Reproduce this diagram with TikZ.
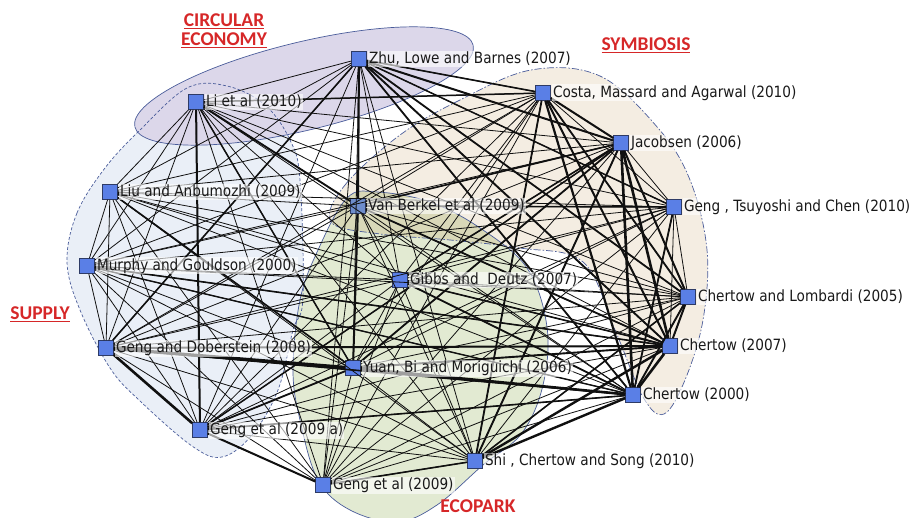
\documentclass[tikz,border=0pt]{standalone}
\usepackage{fontspec}
\setmainfont{DejaVu Sans}[FakeStretch=0.88]
\newfontfamily\headfont{Carlito}
\definecolor{nodeblue}{HTML}{5A7FE6}
\definecolor{nodeedge}{HTML}{2E3B66}
\definecolor{vbblue}{HTML}{6E8DCC}
\definecolor{purplefill}{HTML}{DCD7EA}
\definecolor{bluefill}{HTML}{EAEFF7}
\definecolor{beigefill}{HTML}{F4EDE2}
\definecolor{greenfill}{HTML}{E2EAD2}
\definecolor{olivefill}{HTML}{D9D8B8}
\definecolor{blobline}{HTML}{4A5C9A}
\definecolor{headred}{HTML}{D62728}
\definecolor{edgecol}{HTML}{101010}
\tikzset{
  sq/.style={draw=nodeedge, fill=nodeblue, line width=0.6pt, minimum size=15pt, inner sep=0pt, rectangle},
  edge/.style={draw=edgecol, line width=0.8pt},
  lab/.style={anchor=west, font=\fontsize{15.5}{17}\selectfont, text=black!90, fill=white, fill opacity=0.6, text opacity=1, inner sep=1pt},
  head/.style={font=\headfont\bfseries\fontsize{19.5}{22}\selectfont, text=headred, align=center},
  blobborder/.style={draw=blobline, line width=0.7pt}
}
\begin{document}
\begin{tikzpicture}[x=1pt,y=-1pt]
\useasboundingbox (0,0) rectangle (917,518);
% ---- cluster blobs ----
\def\supplypath{plot[smooth cycle, tension=0.6] coordinates {(67,262) (77,213) (105,168) (140,130) (187,88) (227,86) (265,105) (290,140) (300,180) (303,297) (293,330) (278,390) (252,435) (222,457) (192,446) (140,401) (110,368) (80,310)}}
\def\symbpath{plot[smooth cycle, tension=0.6] coordinates {(331,222) (345,185) (400,135) (460,100) (531,70) (600,76) (658,128) (690,180) (707,250) (703,320) (685,380) (664,414) (643,397) (615,330) (583,262) (520,248) (450,240) (380,234)}}
\def\ecopath{plot[smooth cycle, tension=0.6] coordinates {(347,198) (377,192) (430,202) (480,228) (527,268) (547,327) (543,385) (522,433) (483,465) (437,505) (397,522) (350,510) (318,480) (300,420) (293,370) (300,300) (318,250)}}
\fill[bluefill] \supplypath;
\fill[purplefill, rotate around={13.6:(304,86)}] (304,86) ellipse [x radius=174pt, y radius=44pt];
\fill[beigefill] \symbpath;
\fill[greenfill] \ecopath;
\begin{scope}
  \clip \symbpath;
  \fill[olivefill] \ecopath;
\end{scope}
\draw[blobborder, dashed, dash pattern=on 3pt off 2pt] \supplypath;
\draw[blobborder, rotate around={13.6:(304,86)}] (304,86) ellipse [x radius=174pt, y radius=44pt];
\draw[blobborder, dash pattern=on 7pt off 2pt on 1.5pt off 2pt] \symbpath;
\draw[blobborder] \ecopath;
% ---- headings ----
\node[head] (hce) at (224,31) {\underline{CIRCULAR}\\[-3pt]\underline{ECONOMY}};
\node[head] (hsy) at (646,45) {\underline{SYMBIOSIS}};
\node[head] (hsu) at (40,314) {\underline{SUPPLY}};
\node[head] (hec) at (478,506) {ECOPARK};
% ---- nodes ----
\node[sq] (zhu) at (359,59) {};
\node[sq] (li) at (196,102) {};
\node[sq] (costa) at (543,93) {};
\node[sq] (jac) at (621,143) {};
\node[sq] (liu) at (110,192) {};
\node[sq, fill=vbblue] (vb) at (358,206) {};
\node[sq] (gtc) at (674,207) {};
\node[sq] (mur) at (87,266) {};
\node[sq] (gibbs) at (400,280) {};
\node[sq] (cl) at (688,297) {};
\node[sq] (gd) at (106,348) {};
\node[sq] (c07) at (670,346) {};
\node[sq] (yuan) at (353,368) {};
\node[sq] (c00) at (633,395) {};
\node[sq] (g09a) at (200,430) {};
\node[sq] (shi) at (475,461) {};
\node[sq] (g09) at (323,485) {};
% ---- edges ----
\foreach \a [count=\i] in {zhu,li,costa,jac,liu,vb,gtc,mur,gibbs,cl,gd,c07,yuan,c00,g09a,shi,g09}{
  \foreach \b [count=\j] in {zhu,li,costa,jac,liu,vb,gtc,mur,gibbs,cl,gd,c07,yuan,c00,g09a,shi,g09}{
    \ifnum\i<\j \draw[edge] (\a) -- (\b); \fi
  }
}
\foreach \a/\b/\w in {gd/yuan/3.2, jac/c07/2.6, jac/c00/2.6, c07/c00/2.6, gd/g09a/2.6, yuan/c00/2.6, shi/c00/2.4, shi/c07/2.4, costa/c00/2.2,
  li/g09a/2.0, zhu/vb/2.0, vb/yuan/2.0, jac/cl/2.0, costa/jac/2.0, costa/c07/2.0, c07/cl/2.0, gd/c07/2.0, zhu/jac/2.0, zhu/c07/1.9, li/vb/1.9,
  g09a/g09/2.0, shi/jac/1.9, liu/yuan/1.6, mur/c07/1.6, zhu/c00/1.8, zhu/cl/1.8, gtc/c00/1.8, vb/c07/1.8, g09a/yuan/1.8, gibbs/c00/1.8,
  cl/c00/1.9, costa/cl/1.8, jac/yuan/1.8, jac/gibbs/1.6, zhu/gd/1.6, vb/gtc/1.6, yuan/c07/1.9, g09/shi/1.6, gd/c00/1.6, li/yuan/1.5,
  zhu/costa/1.6, costa/shi/1.8, jac/vb/1.6, gibbs/c07/1.6, g09a/c00/1.6, shi/cl/1.6, zhu/gtc/1.5, li/costa/1.5, mur/c00/1.4, jac/g09a/1.5}{
  \draw[edge, line width=\w pt] (\a) -- (\b);
}
% ---- labels ----
\foreach \n/\t in {zhu/{Zhu, Lowe and Barnes (2007)}, li/{Li et al (2010)}, costa/{Costa, Massard and Agarwal (2010)},
  jac/{Jacobsen (2006)}, liu/{Liu and Anbumozhi (2009)}, vb/{Van Berkel et al (2009)}, gtc/{Geng , Tsuyoshi and Chen (2010)},
  mur/{Murphy and Gouldson (2000)}, gibbs/{Gibbs and\ \ Deutz (2007)}, cl/{Chertow and Lombardi (2005)}, gd/{Geng and Doberstein (2008)},
  c07/{Chertow (2007)}, yuan/{Yuan, Bi and Moriguichi (2006)}, c00/{Chertow (2000)}, g09a/{Geng et al (2009 a)},
  shi/{Shi , Chertow and Song (2010)}, g09/{Geng et al (2009)}}{
  \node[lab] (\n-lab) at ([xshift=1pt]\n.east) {\t};
}
\end{tikzpicture}
\end{document}
